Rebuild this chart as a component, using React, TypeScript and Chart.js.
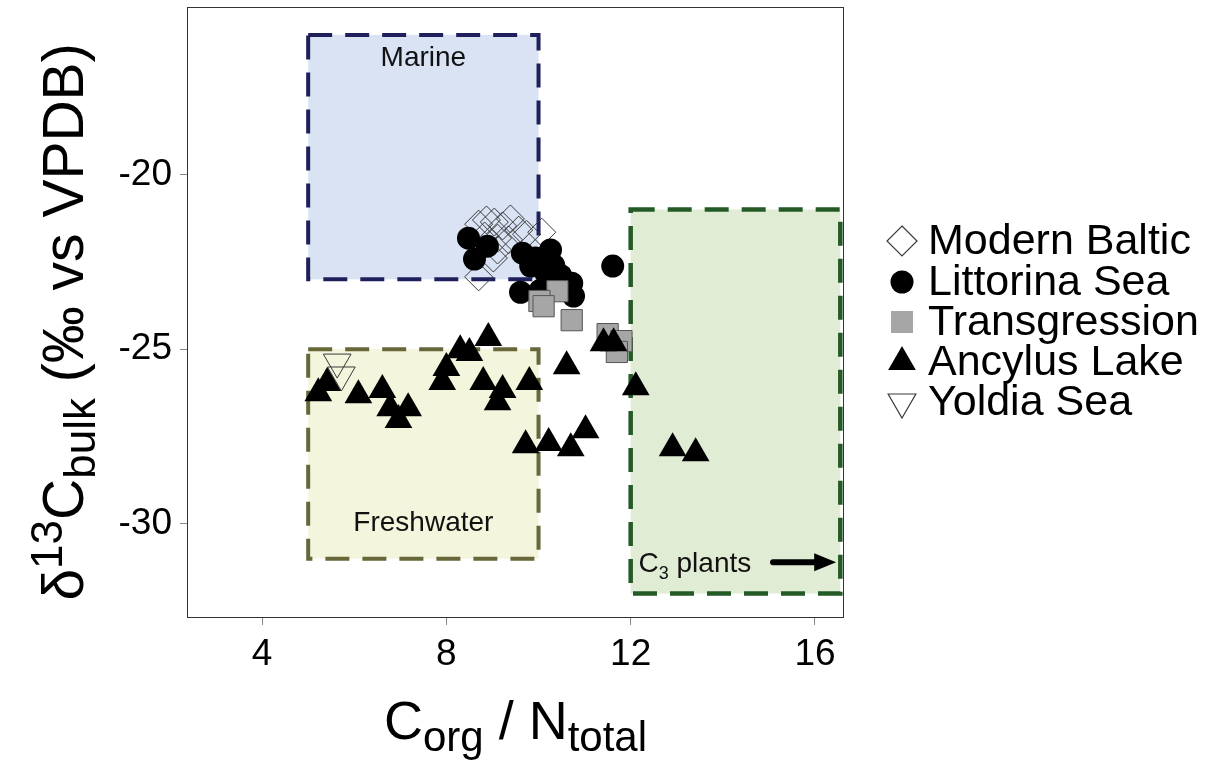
import React, { useEffect, useRef } from "react";
import { Chart, registerables } from "chart.js";

Chart.register(...registerables);

// ---- Data (C_org/N_total, δ13C_bulk) ----
const modernBaltic: number[][] = [
  [8.7, -21.42], [8.87, -21.3], [9.04, -21.36], [9.22, -21.47], [9.39, -21.27],
  [9.57, -21.59], [9.74, -21.71], [10.07, -21.65], [8.83, -21.76], [9.11, -21.82],
  [9.35, -21.87], [9.11, -22.16], [8.7, -22.93], [9.02, -22.39],
];
const littorinaSea: number[][] = [
  [8.48, -21.82], [8.89, -22.05], [8.61, -22.42], [9.65, -22.25], [9.93, -22.39],
  [10.26, -22.16], [9.83, -22.62], [10.15, -22.8], [10.33, -22.6], [9.61, -23.37],
  [10.72, -23.11], [10.76, -23.48], [11.61, -22.62], [10.04, -23.31], [10.48, -22.89],
];
const transgression: number[][] = [
  [10.41, -23.34], [10.02, -23.62], [10.11, -23.77], [10.72, -24.17],
  [11.5, -24.57], [11.8, -24.77], [11.7, -25.08],
];
const ancylusLake: number[][] = [
  [5.22, -26.26], [5.41, -25.97], [6.09, -26.32], [6.61, -26.17], [6.78, -26.69],
  [7.17, -26.69], [6.96, -27.03], [7.91, -25.94], [8.0, -25.54], [8.3, -25.03],
  [8.5, -25.11], [8.91, -24.68], [8.8, -25.94], [9.22, -26.17], [9.11, -26.52],
  [9.8, -25.94], [10.61, -25.49], [11.41, -24.83], [11.63, -24.83], [12.11, -26.09],
  [9.72, -27.75], [10.22, -27.69], [10.7, -27.84], [11.02, -27.32], [12.91, -27.84],
  [13.41, -27.98],
];
const yoldiaSea: number[][] = [
  [5.63, -25.37], [5.72, -25.74],
];

const seriesNames = ["Modern Baltic", "Littorina Sea", "Transgression", "Ancylus Lake", "Yoldia Sea"];
const xTicks = [4, 8, 12, 16];
const yTicks = [-20, -25, -30];
const xRange = [2.37, 16.63];
const yRange = [-32.7, -15.2];

// End-member boxes: [xMin, xMax, yMin, yMax]
const marineBox = [5, 10, -23, -16];
const freshwaterBox = [5, 10, -31, -25];
const c3Box = [12, 16.55, -32, -21];

const FONT = "'Liberation Sans', Arial, Helvetica, sans-serif";

type MarkerKind = "diamond" | "circle" | "square" | "triangle" | "invTriangle";

function drawMarker(ctx: CanvasRenderingContext2D, kind: MarkerKind, x: number, y: number) {
  ctx.save();
  ctx.beginPath();
  if (kind === "diamond") {
    const r = 15;
    ctx.moveTo(x, y - r); ctx.lineTo(x + r, y); ctx.lineTo(x, y + r); ctx.lineTo(x - r, y); ctx.closePath();
    ctx.fillStyle = "#ffffff"; ctx.fill();
    ctx.strokeStyle = "#3a3a3a"; ctx.lineWidth = 1.2; ctx.stroke();
  } else if (kind === "circle") {
    ctx.arc(x, y, 11.5, 0, Math.PI * 2);
    ctx.fillStyle = "#000"; ctx.fill();
  } else if (kind === "square") {
    const s = 11;
    ctx.rect(x - s, y - s, 2 * s, 2 * s);
    ctx.fillStyle = "#a6a6a6"; ctx.fill();
  } else {
    const r = 16;
    const sgn = kind === "triangle" ? 1 : -1;
    ctx.moveTo(x, y - sgn * r);
    ctx.lineTo(x + r * Math.sin((2 * Math.PI) / 3), y + sgn * r * 0.5);
    ctx.lineTo(x - r * Math.sin((2 * Math.PI) / 3), y + sgn * r * 0.5);
    ctx.closePath();
    if (kind === "triangle") { ctx.fillStyle = "#000"; ctx.fill(); }
    else { ctx.fillStyle = "#fff"; ctx.fill(); ctx.strokeStyle = "#3a3a3a"; ctx.lineWidth = 1.2; ctx.stroke(); }
  }
  ctx.restore();
}

type Seg = { t: string; size: number; dy: number };
function drawRich(ctx: CanvasRenderingContext2D, segs: Seg[], cx: number, baseY: number) {
  let total = 0;
  const widths = segs.map((s) => { ctx.font = `${s.size}px ${FONT}`; const w = ctx.measureText(s.t).width; total += w; return w; });
  let x = cx - total / 2;
  ctx.textBaseline = "alphabetic";
  ctx.textAlign = "left";
  segs.forEach((s, i) => {
    ctx.font = `${s.size}px ${FONT}`;
    ctx.fillText(s.t, x, baseY + s.dy);
    x += widths[i];
  });
}

const decorPlugin = {
  id: "decor",
  beforeDatasetsDraw(chart: any) {
    const { ctx, scales, chartArea } = chart;
    const xs = scales.x, ys = scales.y;
    const boxes = [
      { b: marineBox, fill: "#dae3f3", stroke: "#1f1f5c", dash: [24, 13], lw: 4 },
      { b: freshwaterBox, fill: "#f3f5dc", stroke: "#67673a", dash: [24, 13], lw: 4 },
      { b: c3Box, fill: "#e0ecd4", stroke: "#245a26", dash: [24, 13], lw: 4.5 },
    ];
    ctx.save();
    boxes.forEach(({ b, fill, stroke, dash, lw }) => {
      const x0 = xs.getPixelForValue(b[0]), x1 = xs.getPixelForValue(b[1]);
      const y0 = ys.getPixelForValue(b[3]), y1 = ys.getPixelForValue(b[2]);
      ctx.fillStyle = fill;
      ctx.fillRect(x0, y0, x1 - x0, y1 - y0);
      ctx.setLineDash(dash);
      ctx.lineWidth = lw;
      ctx.strokeStyle = stroke;
      ctx.strokeRect(x0, y0, x1 - x0, y1 - y0);
    });
    ctx.setLineDash([]);
    // labels
    ctx.fillStyle = "#111";
    ctx.font = `28px ${FONT}`;
    ctx.textAlign = "center";
    ctx.textBaseline = "middle";
    ctx.fillText("Marine", xs.getPixelForValue((marineBox[0] + marineBox[1]) / 2), ys.getPixelForValue(-16.66));
    ctx.fillText("Freshwater", xs.getPixelForValue((freshwaterBox[0] + freshwaterBox[1]) / 2), ys.getPixelForValue(-30.0));
    // C3 plants label + arrow
    const cx = xs.getPixelForValue(12.17);
    const cy = ys.getPixelForValue(-31.1);
    ctx.textAlign = "left";
    ctx.textBaseline = "alphabetic";
    ctx.font = `28px ${FONT}`;
    ctx.fillText("C", cx, cy + 10);
    let w = ctx.measureText("C").width;
    ctx.font = `18px ${FONT}`;
    ctx.fillText("3", cx + w, cy + 17);
    w += ctx.measureText("3").width;
    ctx.font = `28px ${FONT}`;
    ctx.fillText(" plants", cx + w, cy + 10);
    const ax0 = xs.getPixelForValue(15.09), ax1 = xs.getPixelForValue(16.46);
    ctx.strokeStyle = "#000";
    ctx.lineWidth = 6;
    ctx.lineCap = "round";
    ctx.beginPath();
    ctx.moveTo(ax0, cy); ctx.lineTo(ax1 - 14, cy); ctx.stroke();
    ctx.beginPath();
    ctx.moveTo(ax1, cy); ctx.lineTo(ax1 - 22, cy - 9); ctx.lineTo(ax1 - 22, cy + 9); ctx.closePath();
    ctx.fillStyle = "#000"; ctx.fill();
    // frame
    ctx.strokeStyle = "#333";
    ctx.lineWidth = 1;
    ctx.strokeRect(chartArea.left + 0.5, chartArea.top + 0.5, chartArea.right - chartArea.left - 1, chartArea.bottom - chartArea.top - 1);
    ctx.restore();
  },
  afterDraw(chart: any) {
    const { ctx, chartArea } = chart;
    ctx.save();
    ctx.fillStyle = "#000";
    // legend
    const kinds: MarkerKind[] = ["diamond", "circle", "square", "triangle", "invTriangle"];
    const rows = [241, 282, 322, 362, 402];
    seriesNames.forEach((name, i) => {
      drawMarker(ctx, kinds[i], 902, rows[i]);
      ctx.fillStyle = "#000";
      ctx.font = `43px ${FONT}`;
      ctx.textAlign = "left";
      ctx.textBaseline = "middle";
      ctx.fillText(name, 928, rows[i] + 1);
    });
    // x title
    ctx.fillStyle = "#000";
    const xc = (chartArea.left + chartArea.right) / 2;
    drawRich(ctx, [
      { t: "C", size: 54, dy: 0 },
      { t: "org", size: 42, dy: 12 },
      { t: " / N", size: 54, dy: 0 },
      { t: "total", size: 42, dy: 12 },
    ], xc, 739);
    // y title (rotated)
    ctx.translate(83, 322);
    ctx.rotate(-Math.PI / 2);
    drawRich(ctx, [
      { t: "δ", size: 57, dy: 0 },
      { t: "13", size: 44, dy: -21 },
      { t: "C", size: 57, dy: 0 },
      { t: "bulk", size: 44, dy: 12 },
      { t: " (‰ vs VPDB)", size: 57, dy: 0 },
    ], 0, 0);
    ctx.restore();
  },
};

export default function App() {
  const ref = useRef<HTMLCanvasElement | null>(null);
  useEffect(() => {
    if (!ref.current) return;
    const toPts = (a: number[][]) => a.map(([x, y]) => ({ x, y }));
    const chart = new Chart(ref.current, {
      type: "scatter",
      data: {
        datasets: [
          { label: seriesNames[0], data: toPts(modernBaltic), pointStyle: "rectRot", pointRadius: 14, backgroundColor: "rgba(255,255,255,0)", borderColor: "#3a3a3a", borderWidth: 1, order: 6 },
          { label: seriesNames[1], data: toPts(littorinaSea), pointStyle: "circle", pointRadius: 11.5, backgroundColor: "#000", borderColor: "#000", borderWidth: 0, order: 4 },
          { label: seriesNames[2], data: toPts(transgression), pointStyle: "rect", pointRadius: 15, backgroundColor: "#a6a6a6", borderColor: "#555", borderWidth: 1, order: 3 },
          { label: seriesNames[3], data: toPts(ancylusLake), pointStyle: "triangle", pointRadius: 16, backgroundColor: "#000", borderColor: "#000", borderWidth: 0, order: 2 },
          { label: seriesNames[4], data: toPts(yoldiaSea), pointStyle: "triangle", rotation: 180, pointRadius: 16, backgroundColor: "rgba(255,255,255,0)", borderColor: "#3a3a3a", borderWidth: 1, order: 7 } as any,
        ],
      },
      options: {
        animation: false,
        responsive: true,
        maintainAspectRatio: false,
        layout: { autoPadding: false, padding: { left: 0, right: 1208 - 844, top: 7, bottom: 0 } },
        plugins: { legend: { display: false }, tooltip: { enabled: false } },
        scales: {
          x: {
            type: "linear",
            min: xRange[0],
            max: xRange[1],
            afterBuildTicks: (s: any) => { s.ticks = xTicks.map((v) => ({ value: v })); },
            afterFit: (s: any) => { s.height = 763 - 618; s.paddingLeft = 0; s.paddingRight = 0; },
            grid: { display: true, drawOnChartArea: false, tickLength: 7, color: "#888" },
            border: { display: false },
            ticks: { color: "#000", font: { size: 37, family: FONT }, padding: 8 },
          },
          y: {
            type: "linear",
            min: yRange[0],
            max: yRange[1],
            afterBuildTicks: (s: any) => { s.ticks = yTicks.map((v) => ({ value: v })); },
            afterFit: (s: any) => { s.width = 187; s.paddingTop = 0; s.paddingBottom = 0; },
            grid: { display: true, drawOnChartArea: false, tickLength: 7, color: "#888" },
            border: { display: false },
            ticks: { color: "#000", font: { size: 37, family: FONT }, padding: 8 },
          },
        },
      },
      plugins: [decorPlugin],
    });
    return () => chart.destroy();
  }, []);
  return (
    <div style={{ position: "fixed", left: 0, top: 0, width: 1208, height: 763, background: "#fff" }}>
      <canvas ref={ref} />
    </div>
  );
}
